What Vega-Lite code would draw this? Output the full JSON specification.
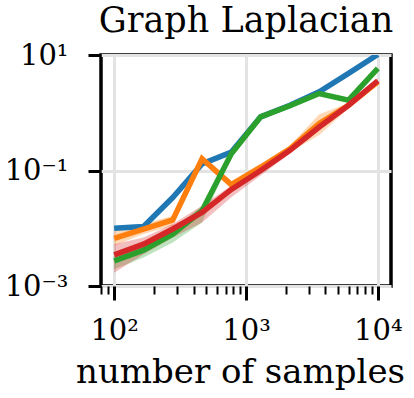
{
  "$schema": "https://vega.github.io/schema/vega-lite/v6.json",
  "width": 290,
  "height": 231,
  "autosize": {"type": "none"},
  "padding": {"left": 101, "top": 55, "right": 23, "bottom": 112},
  "background": "white",
  "title": {"text": "Graph Laplacian", "font": "DejaVu Serif", "fontSize": 35, "fontWeight": "normal", "color": "black", "anchor": "middle", "baseline": "alphabetic", "offset": -26},
  "config": {
    "view": {"stroke": "black", "strokeWidth": 3.5},
    "axis": {"domain": false, "labelFont": "DejaVu Serif", "labelFontSize": 29, "labelColor": "black", "titleFont": "DejaVu Serif", "titleFontSize": 34, "titleFontWeight": "normal", "titleColor": "black", "tickColor": "black", "gridColor": "#e3e3e3", "gridWidth": 3, "labelOverlap": false, "labelFlush": false, "labelBound": false}
  },
  "data": {"values": [
    {"s": "s1", "n": 100, "y": 0.0100, "lo": 0.0095, "hi": 0.0106},
    {"s": "s1", "n": 167, "y": 0.0107, "lo": 0.0101, "hi": 0.0113},
    {"s": "s1", "n": 278, "y": 0.034, "lo": 0.031, "hi": 0.037},
    {"s": "s1", "n": 464, "y": 0.13, "lo": 0.12, "hi": 0.14},
    {"s": "s1", "n": 774, "y": 0.208, "lo": 0.19, "hi": 0.225},
    {"s": "s1", "n": 1292, "y": 0.85, "lo": 0.81, "hi": 0.89},
    {"s": "s1", "n": 2154, "y": 1.35, "lo": 1.29, "hi": 1.41},
    {"s": "s1", "n": 3594, "y": 2.3, "lo": 2.2, "hi": 2.4},
    {"s": "s1", "n": 5995, "y": 4.8, "lo": 4.6, "hi": 5.0},
    {"s": "s1", "n": 10000, "y": 10.2, "lo": 9.7, "hi": 10.6},
    {"s": "s2", "n": 100, "y": 0.0067, "lo": 0.00496, "hi": 0.00905},
    {"s": "s2", "n": 167, "y": 0.0097, "lo": 0.00792, "hi": 0.0118},
    {"s": "s2", "n": 278, "y": 0.0139, "lo": 0.0110, "hi": 0.0165},
    {"s": "s2", "n": 464, "y": 0.16, "lo": 0.140, "hi": 0.182},
    {"s": "s2", "n": 774, "y": 0.057, "lo": 0.048, "hi": 0.065},
    {"s": "s2", "n": 1292, "y": 0.114, "lo": 0.097, "hi": 0.131},
    {"s": "s2", "n": 2154, "y": 0.238, "lo": 0.208, "hi": 0.272},
    {"s": "s2", "n": 3594, "y": 0.65, "lo": 0.41, "hi": 0.94},
    {"s": "s2", "n": 5995, "y": 1.35, "lo": 1.18, "hi": 1.48},
    {"s": "s2", "n": 10000, "y": 3.43, "lo": 3.13, "hi": 3.77},
    {"s": "s3", "n": 100, "y": 0.00272, "lo": 0.00195, "hi": 0.00333},
    {"s": "s3", "n": 167, "y": 0.00417, "lo": 0.00311, "hi": 0.00496},
    {"s": "s3", "n": 278, "y": 0.0079, "lo": 0.00568, "hi": 0.0097},
    {"s": "s3", "n": 464, "y": 0.0201, "lo": 0.0126, "hi": 0.0246},
    {"s": "s3", "n": 774, "y": 0.195, "lo": 0.177, "hi": 0.214},
    {"s": "s3", "n": 1292, "y": 0.85, "lo": 0.81, "hi": 0.89},
    {"s": "s3", "n": 2154, "y": 1.32, "lo": 1.26, "hi": 1.38},
    {"s": "s3", "n": 3594, "y": 2.15, "lo": 2.05, "hi": 2.25},
    {"s": "s3", "n": 5995, "y": 1.65, "lo": 1.57, "hi": 1.73},
    {"s": "s3", "n": 10000, "y": 5.86, "lo": 5.6, "hi": 6.1},
    {"s": "s4", "n": 100, "y": 0.00346, "lo": 0.0017, "hi": 0.0053},
    {"s": "s4", "n": 167, "y": 0.0053, "lo": 0.00356, "hi": 0.00693},
    {"s": "s4", "n": 278, "y": 0.0097, "lo": 0.00693, "hi": 0.0118},
    {"s": "s4", "n": 464, "y": 0.0188, "lo": 0.0126, "hi": 0.0246},
    {"s": "s4", "n": 774, "y": 0.047, "lo": 0.0344, "hi": 0.0548},
    {"s": "s4", "n": 1292, "y": 0.1, "lo": 0.0818, "hi": 0.114},
    {"s": "s4", "n": 2154, "y": 0.223, "lo": 0.195, "hi": 0.248},
    {"s": "s4", "n": 3594, "y": 0.567, "lo": 0.51, "hi": 0.63},
    {"s": "s4", "n": 5995, "y": 1.35, "lo": 1.22, "hi": 1.48},
    {"s": "s4", "n": 10000, "y": 3.58, "lo": 3.30, "hi": 3.87}
  ]},
  "encoding": {
    "x": {"field": "n", "type": "quantitative",
      "scale": {"type": "log", "domain": [79.43, 12589], "nice": false},
      "axis": {"title": "number of samples", "titlePadding": 10, "titleX": 139,
        "values": [80, 90, 100, 200, 300, 400, 500, 600, 700, 800, 900, 1000, 2000, 3000, 4000, 5000, 6000, 7000, 8000, 9000, 10000],
        "labelExpr": "datum.value == 100 ? '10²' : datum.value == 1000 ? '10³' : datum.value == 10000 ? '10⁴' : ''",
        "tickSize": {"condition": {"test": "datum.value == 100 || datum.value == 1000 || datum.value == 10000", "value": 14}, "value": 8},
        "tickWidth": {"condition": {"test": "datum.value == 100 || datum.value == 1000 || datum.value == 10000", "value": 3}, "value": 2},
        "gridOpacity": {"condition": {"test": "datum.value == 100 || datum.value == 1000 || datum.value == 10000", "value": 1}, "value": 0},
        "labelPadding": 16}},
    "color": {"field": "s", "type": "nominal", "legend": null,
      "scale": {"domain": ["s1", "s2", "s3", "s4"], "range": ["#1f77b4", "#ff7f0e", "#2ca02c", "#d62728"]}}
  },
  "layer": [
    {"mark": {"type": "area", "opacity": 0.3, "clip": true},
     "encoding": {
       "y": {"field": "lo", "type": "quantitative",
         "scale": {"type": "log", "domain": [0.001, 10], "nice": false},
         "axis": {"title": null, "values": [0.001, 0.1, 10],
           "labelExpr": "datum.value == 10 ? '10¹' : datum.value == 0.1 ? '10⁻¹' : '10⁻³'",
           "tickSize": 13, "tickWidth": 3, "labelPadding": 20}},
       "y2": {"field": "hi"}}},
    {"mark": {"type": "line", "strokeWidth": 5.5, "clip": true},
     "encoding": {"y": {"field": "y", "type": "quantitative"}}}
  ]
}
